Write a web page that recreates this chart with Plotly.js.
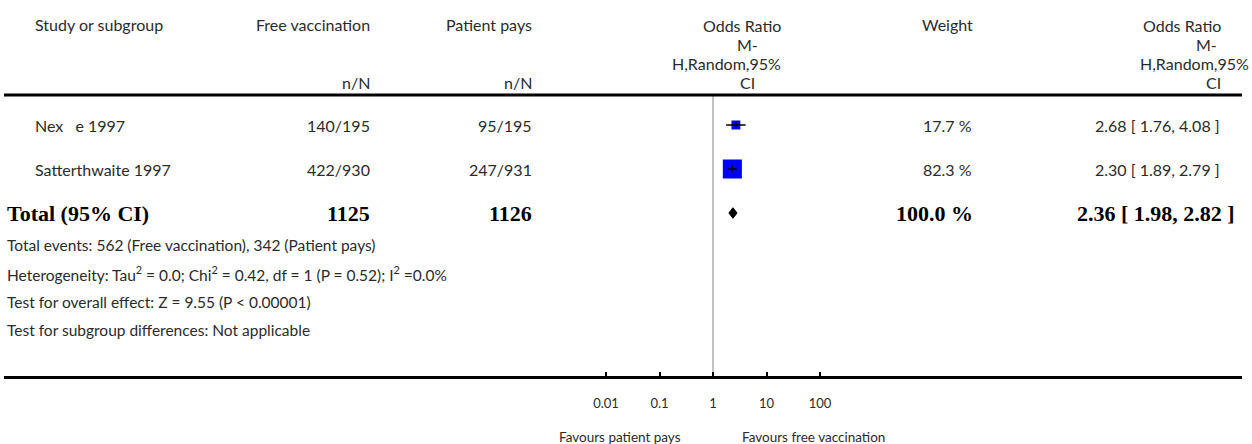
<!DOCTYPE html>
<html>
<head>
<meta charset="utf-8">
<script src="https://cdn.plot.ly/plotly-3.0.1.min.js"></script>
<style>html,body{margin:0;padding:0;background:#fff;}#chart{width:1252px;height:444px;}</style>
</head>
<body>
<div id="chart"></div>
<script>
// ---- data ----
const studies = ["Nex\u2002 e 1997", "Satterthwaite 1997"];
const freeEvents = [140, 422];
const freeTotal = [195, 930];
const payEvents = [95, 247];
const payTotal = [195, 931];
const weights = [17.7, 82.3];
const oddsRatio = [2.68, 2.30];
const ciLow = [1.76, 1.89];
const ciHigh = [4.08, 2.79];

const totalLabel = "Total (95% CI)";
const totalFree = 1125;
const totalPay = 1126;
const totalWeight = 100.0;
const totalOR = 2.36;
const totalLow = 1.98;
const totalHigh = 2.82;

const tickVals = [0.01, 0.1, 1, 10, 100];
const tickLabels = ["0.01", "0.1", "1", "10", "100"];

const footnotes = [
  "Total events: 562 (Free vaccination), 342 (Patient pays)",
  "Heterogeneity: Tau<sup>2</sup> = 0.0; Chi<sup>2</sup> = 0.42, df = 1 (P = 0.52); I<sup>2</sup> =0.0%",
  "Test for overall effect: Z = 9.55 (P < 0.00001)",
  "Test for subgroup differences: Not applicable"
];
const favourLeft = "Favours patient pays";
const favourRight = "Favours free vaccination";

// ---- layout helpers ----
const W = 1252, H = 444;
const px = x => x / W;
const py = y => 1 - y / H;
const REG = "Lato, 'Open Sans', sans-serif";
const BOLD = "'Liberation Serif', serif";
const TXT = "#2b2b2b";
const FS = 16;

const rowTop = 125, rowGap = 44;
const rowY = i => rowTop + rowGap * i;

// ---- traces ----
const idx = studies.map((_, i) => i);
const squares = {
  type: "scatter", mode: "markers", x: oddsRatio, y: idx,
  marker: {symbol: "square", color: "#0000ff", opacity: 1, size: weights.map(w => 2.1 * Math.sqrt(w)), line: {width: 0}},
  hoverinfo: "skip", showlegend: false
};
const ciX = [], ciY = [];
idx.forEach(i => { ciX.push(ciLow[i], ciHigh[i], null); ciY.push(i, i, null); });
const ciLines = {
  type: "scatter", mode: "lines", x: ciX, y: ciY,
  line: {color: "#000", width: 1.5}, hoverinfo: "skip", showlegend: false
};
const centerTicks = {
  type: "scatter", mode: "markers", x: oddsRatio, y: idx,
  marker: {symbol: "line-ns-open", color: "#000", size: 5, opacity: 1, line: {width: 1.5, color: "#000"}},
  hoverinfo: "skip", showlegend: false
};
const dh = 0.12;
const diamond = {
  type: "scatter", mode: "lines", fill: "toself", fillcolor: "#000",
  x: [totalLow, totalOR, totalHigh, totalOR, totalLow],
  y: [2, 2 - dh, 2, 2 + dh, 2],
  line: {color: "#000", width: 1}, hoverinfo: "skip", showlegend: false
};

// ---- annotations ----
const ann = [];
function txt(text, x, y, anchor, opts = {}) {
  ann.push(Object.assign({
    text: text, x: px(x), y: py(y), xref: "paper", yref: "paper",
    xanchor: anchor, yanchor: "middle", showarrow: false,
    font: {family: REG, size: FS, color: TXT}
  }, opts));
}
// header
txt("Study or subgroup", 33, 25, "left");
txt("Free vaccination", 372, 25, "right");
txt("Patient pays", 534, 25, "right");
txt("n/N", 372, 82, "right");
txt("n/N", 534, 82, "right");
txt("Odds Ratio", 783, 26, "right");
txt("M-", 760, 45, "right");
txt("H,Random,95%", 783, 64, "right");
txt("CI", 757, 82, "right");
txt("Weight", 975, 25, "right");
txt("Odds Ratio", 1223, 26, "right");
txt("M-", 1219, 45, "right");
txt("H,Random,95%", 1251, 64, "right");
txt("CI", 1223, 82, "right");
// study rows
idx.forEach(i => {
  const y = rowY(i);
  txt(studies[i], 33, y, "left");
  txt(freeEvents[i] + "/" + freeTotal[i], 372, y, "right");
  txt(payEvents[i] + "/" + payTotal[i], 534, y, "right");
  txt(weights[i].toFixed(1) + " %", 974, y, "right");
  txt(oddsRatio[i].toFixed(2) + " [ " + ciLow[i].toFixed(2) + ", " + ciHigh[i].toFixed(2) + " ]", 1222, y, "right");
});
// total row
const bf = {font: {family: BOLD, size: 22, color: "#000", weight: "bold"}};
const ty = rowY(2);
txt("<b>" + totalLabel + "</b>", 5, ty, "left", bf);
txt("<b>" + totalFree + "</b>", 372, ty, "right", bf);
txt("<b>" + totalPay + "</b>", 534, ty, "right", bf);
txt("<b>" + totalWeight.toFixed(1) + " %</b>", 975, ty, "right", bf);
txt("<b>" + totalOR.toFixed(2) + " [ " + totalLow.toFixed(2) + ", " + totalHigh.toFixed(2) + " ]</b>", 1237, ty, "right", bf);
// footnotes
const footY = [245, 273, 302, 330];
footnotes.forEach((f, i) => txt(f, 5, footY[i], "left", {font: {family: REG, size: 15.5, color: TXT}}));
// favours
txt(favourLeft, 683, 437, "right", {font: {family: REG, size: 13.5, color: TXT}});
txt(favourRight, 740, 437, "left", {font: {family: REG, size: 13.5, color: TXT}});

// ---- axis geometry ----
const center = 713, decade = 53.5;
const lo = -2.5, hi = 2.5;
const x0 = center + decade * lo, x1 = center + decade * hi;
const r0 = -rowTop / rowGap;
const r1 = r0 + H / rowGap;

const layout = {
  width: W, height: H,
  margin: {l: 0, r: 0, t: 0, b: 0},
  paper_bgcolor: "#fff", plot_bgcolor: "rgba(0,0,0,0)",
  showlegend: false,
  xaxis: {
    type: "log", range: [lo, hi], domain: [px(x0), px(x1)],
    anchor: "free", position: py(377),
    showgrid: false, zeroline: false, showline: false,
    ticks: "inside", ticklen: 5, tickwidth: 2, tickcolor: "#000",
    tickvals: tickVals, ticktext: tickLabels,
    ticklabelstandoff: 17,
    tickfont: {family: REG, size: 13, color: TXT},
    fixedrange: true
  },
  yaxis: {
    range: [r1, r0], domain: [0, 1], visible: false, fixedrange: true
  },
  shapes: [
    {type: "line", xref: "paper", yref: "paper", x0: px(4), x1: px(1242), y0: py(95), y1: py(95), line: {color: "#000", width: 3}},
    {type: "line", xref: "paper", yref: "paper", x0: px(4), x1: px(1242), y0: py(377.5), y1: py(377.5), line: {color: "#000", width: 3}},
    {type: "line", xref: "x", yref: "paper", x0: 1, x1: 1, y0: py(96), y1: py(376), line: {color: "#888", width: 1}, layer: "below"}
  ],
  annotations: ann
};

Plotly.newPlot("chart", [squares, ciLines, centerTicks, diamond], layout, {staticPlot: true, displayModeBar: false});
</script>
</body>
</html>
